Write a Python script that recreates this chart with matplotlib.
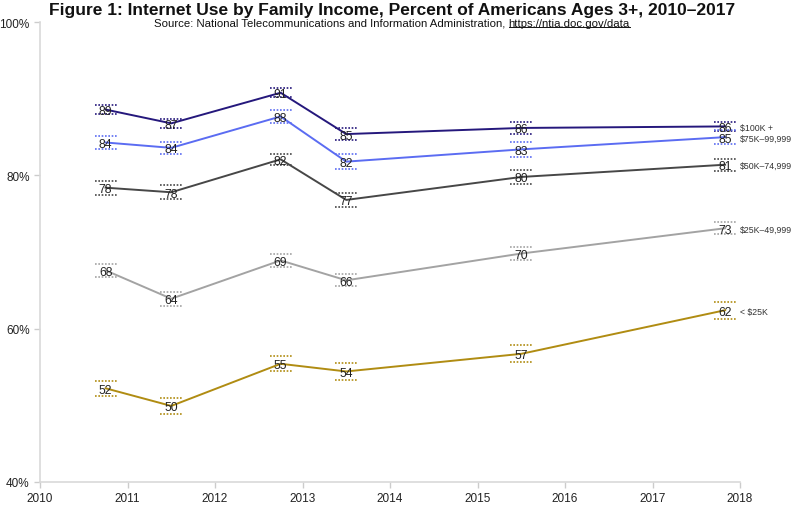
import matplotlib
matplotlib.use("Agg")
import matplotlib.pyplot as plt
from matplotlib.lines import Line2D

plt.rcParams['font.family'] = ['Liberation Sans', 'DejaVu Sans']

# survey dates (decimal years): Oct 2010, Jul 2011, Oct 2012, Jul 2013, Jul 2015, Nov 2017
dates = [2010.75, 2011.5, 2012.75, 2013.5, 2015.5, 2017.83]

series_names = ["$100K +", "$75K\u201399,999", "$50K\u201374,999", "$25K\u201349,999", "< $25K"]
inc_100k = [88.6, 86.8, 90.8, 85.4, 86.2, 86.4]
inc_75k = [84.3, 83.6, 87.7, 81.8, 83.4, 85.0]
inc_50k = [78.4, 77.8, 82.1, 76.8, 79.8, 81.4]
inc_25k = [67.6, 63.9, 68.9, 66.3, 69.8, 73.1]
inc_lt25k = [52.2, 49.9, 55.4, 54.4, 56.7, 62.4]

# confidence interval half-widths (percentage points)
ci_100k = [0.6, 0.6, 0.6, 0.8, 0.8, 0.6]
ci_75k = [0.9, 0.8, 0.9, 1.0, 1.0, 0.9]
ci_50k = [0.9, 0.9, 0.7, 0.9, 0.9, 0.8]
ci_25k = [0.8, 0.9, 0.8, 0.8, 0.8, 0.8]
ci_lt25k = [1.0, 1.0, 1.0, 1.1, 1.1, 1.1]

colors = ["#25187c", "#5b6cf2", "#474747", "#a3a3a3", "#b08c12"]

values = [inc_100k, inc_75k, inc_50k, inc_25k, inc_lt25k]
cis = [ci_100k, ci_75k, ci_50k, ci_25k, ci_lt25k]

fig = plt.figure(figsize=(8, 5.06), dpi=100)
ax = fig.add_axes([0.05, 0.046, 0.875, 0.908])

for name, vals, ci, col in zip(series_names, values, cis, colors):
    ax.plot(dates, vals, color=col, lw=1.4, zorder=3)
    for d, v, m in zip(dates, vals, ci):
        for yy in (v - m, v + m):
            ax.plot([d - 0.125, d + 0.125], [yy, yy], color=col, lw=1.2,
                    linestyle=(0, (1, 1)), zorder=2)
        ax.text(d, v, f"{v:.0f}", ha="center", va="center_baseline", fontsize=8.7,
                color="#222222", zorder=4)
    ax.annotate(name, xy=(dates[-1], vals[-1]), xytext=(15, 0),
                textcoords="offset pixels", ha="left", va="center_baseline",
                fontsize=6.3, color="#333333")

ax.set_xlim(2010, 2018)
ax.set_ylim(40, 100)
ax.set_xticks(range(2010, 2019))
ax.set_yticks([40, 60, 80, 100])
ax.set_yticklabels([f"{t}%" for t in [40, 60, 80, 100]])
ax.tick_params(axis="both", colors="#cccccc", labelcolor="#222222",
               labelsize=8.5, length=4, width=1)
for s in ["top", "right"]:
    ax.spines[s].set_visible(False)
for s in ["left", "bottom"]:
    ax.spines[s].set_color("#d9d9d9")
    ax.spines[s].set_linewidth(1.2)

fig.text(0.49, 0.979, "Figure 1: Internet Use by Family Income, Percent of Americans Ages 3+, 2010\u20132017",
         ha="center", va="center", fontsize=12.5, fontweight="bold", color="#111111")

# subtitle with underlined link
t1 = fig.text(0.0, 0.953, "Source: National Telecommunications and Information Administration, ",
              ha="left", va="center", fontsize=8.2, color="#111111")
t2 = fig.text(0.0, 0.953, "https://ntia.doc.gov/data", ha="left", va="center",
              fontsize=8.2, color="#111111")
fig.canvas.draw()
r = fig.canvas.get_renderer()
w1 = t1.get_window_extent(r).width
w2 = t2.get_window_extent(r).width
W = fig.bbox.width
x0 = 0.49 * W - (w1 + w2) / 2
t1.set_x(x0 / W)
t2.set_x((x0 + w1) / W)
fig.canvas.draw()
bb = t2.get_window_extent(r)
H = fig.bbox.height
fig.add_artist(Line2D([bb.x0 / W, bb.x1 / W], [(bb.y0 + 1) / H, (bb.y0 + 1) / H],
                      color="#111111", lw=0.7))

fig.savefig("out.png", dpi=100)
